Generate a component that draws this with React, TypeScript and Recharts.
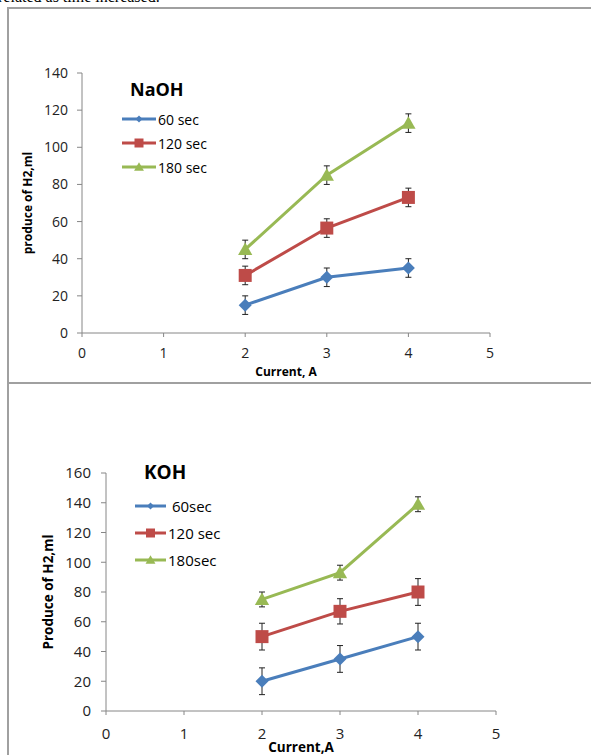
import React from "react";
import { LineChart, Line, XAxis, YAxis, ErrorBar, Legend } from "recharts";

const currents = [2, 3, 4];
const xTicks = [0, 1, 2, 3, 4, 5];

// NaOH panel
const naoh60 = [15, 30, 35];
const naoh120 = [31, 56.5, 73];
const naoh180 = [45, 85, 113];
const naohErr60 = [5, 5, 5];
const naohErr120 = [5, 5, 5];
const naohErr180 = [5, 5, 5];
const naohNames = ["60 sec", "120 sec", "180 sec"];
const naohYTicks = [0, 20, 40, 60, 80, 100, 120, 140];

// KOH panel
const koh60 = [20, 35, 50];
const koh120 = [50, 67, 80];
const koh180 = [75, 93, 139];
const kohErr60 = [9, 9, 9];
const kohErr120 = [9, 8.5, 9];
const kohErr180 = [5, 5, 5];
const kohNames = [" 60sec", "120 sec", "180sec"];
const kohYTicks = [0, 20, 40, 60, 80, 100, 120, 140, 160];

const COLORS = ["#4A7EBB", "#BE4B48", "#98B954"];
const SHAPES = ["diamond", "square", "triangle"];
const KEYS = ["s60", "s120", "s180"];
const ERR_KEYS = ["e60", "e120", "e180"];
const FONT = "'Open Sans', Lato, sans-serif";

function buildRows(series: number[][], errs: number[][]) {
  return currents.map((x, i) => {
    const row: any = { x };
    KEYS.forEach((k, j) => (row[k] = series[j][i]));
    ERR_KEYS.forEach((k, j) => (row[k] = errs[j][i]));
    return row;
  });
}

function markerPath(shape: string, cx: number, cy: number, r: number) {
  if (shape === "diamond") return `M${cx},${cy - r}L${cx + r},${cy}L${cx},${cy + r}L${cx - r},${cy}Z`;
  if (shape === "square") return `M${cx - r},${cy - r}h${2 * r}v${2 * r}h${-2 * r}Z`;
  return `M${cx},${cy - r * 1.05}L${cx + r * 1.1},${cy + r * 0.85}L${cx - r * 1.1},${cy + r * 0.85}Z`;
}

const dotFor = (shape: string, color: string, r: number) => (p: any) => (
  <path key={`${shape}-${p.index}`} d={markerPath(shape, p.cx, p.cy, r)} fill={color} />
);

function makeLegend(title: string, titleSize: number, titleIndent: number, rowH: number, gap: number, textSize: number, lineW: number) {
  return (props: any) => {
    const items = [...(props.payload || [])].sort((a: any, b: any) => KEYS.indexOf(a.dataKey) - KEYS.indexOf(b.dataKey));
    return (
      <div style={{ fontFamily: FONT, color: "#000" }}>
        <div style={{ fontWeight: 700, fontSize: titleSize, height: 30, lineHeight: "30px", marginLeft: titleIndent, marginBottom: gap }}>{title}</div>
        {items.map((p: any) => {
          const i = KEYS.indexOf(p.dataKey);
          return (
            <div key={p.dataKey} style={{ display: "flex", alignItems: "center", height: rowH }}>
              <svg width={lineW} height={14} style={{ display: "block" }}>
                <line x1={0} y1={7} x2={lineW} y2={7} stroke={COLORS[i]} strokeWidth={3} />
                <path d={markerPath(SHAPES[i], lineW / 2, 7, i === 0 ? 3.5 : 4.5)} fill={COLORS[i]} />
              </svg>
              <span style={{ fontSize: textSize, whiteSpace: "pre", marginLeft: 2 }}>{p.value}</span>
            </div>
          );
        })}
      </div>
    );
  };
}

function Panel(props: any) {
  const { rows, names, yTicks, yMax, width, height, margin, yAxisW, xAxisH, tickSize, xTickMargin, yTickMargin, xLabel, yLabel, labelSize, yLabelOffset, legend, legendPos } = props;
  const tick = { fontSize: tickSize, fill: "#222", fontFamily: FONT };
  return (
    <LineChart width={width} height={height} data={rows} margin={margin}>
      <XAxis
        dataKey="x"
        type="number"
        domain={[0, 5]}
        ticks={xTicks}
        stroke="#868686"
        tickSize={4}
        tickMargin={xTickMargin}
        tick={tick}
        height={xAxisH}
        label={{ value: xLabel, position: "insideBottom", offset: 0, style: { fontFamily: FONT, fontWeight: 700, fontSize: labelSize, fill: "#000" } }}
      />
      <YAxis
        domain={[0, yMax]}
        ticks={yTicks}
        stroke="#868686"
        tickSize={5}
        tickMargin={yTickMargin}
        tick={tick}
        width={yAxisW}
        label={{ value: yLabel, angle: -90, position: "insideLeft", offset: yLabelOffset, style: { textAnchor: "middle", fontFamily: FONT, fontWeight: 700, fontSize: labelSize, fill: "#000" } }}
      />
      <Legend
        layout="vertical"
        align="center"
        verticalAlign="middle"
        content={legend}
        wrapperStyle={{ position: "absolute", left: legendPos[0], top: legendPos[1], width: 160, height: "auto" }}
      />
      {KEYS.map((k, i) => (
        <Line
          key={k}
          type="linear"
          dataKey={k}
          name={names[i]}
          stroke={COLORS[i]}
          strokeWidth={3}
          dot={dotFor(SHAPES[i], COLORS[i], 6.5)}
          activeDot={false}
          isAnimationActive={false}
        >
          <ErrorBar dataKey={ERR_KEYS[i]} direction="y" width={3} strokeWidth={1} stroke="#222" />
        </Line>
      ))}
    </LineChart>
  );
}

export default function App() {
  const naohRows = buildRows([naoh60, naoh120, naoh180], [naohErr60, naohErr120, naohErr180]);
  const kohRows = buildRows([koh60, koh120, koh180], [kohErr60, kohErr120, kohErr180]);
  return (
    <div style={{ position: "absolute", left: 0, top: 0, width: 591, height: 755, overflow: "hidden", background: "#fff" }}>
      <div style={{ position: "absolute", left: -2, top: -12, fontFamily: "'Liberation Serif', serif", fontSize: 16, whiteSpace: "nowrap" }}>
        related as time increased.
      </div>
      <div style={{ position: "absolute", left: 7, top: 7, width: 584, height: 2, background: "#a0a0a0" }} />
      <div style={{ position: "absolute", left: 7, top: 7, width: 2, height: 748, background: "#a0a0a0" }} />
      <div style={{ position: "absolute", left: 7, top: 382, width: 584, height: 2, background: "#a0a0a0" }} />

      <div style={{ position: "absolute", left: 0, top: 0 }}>
        <Panel
          rows={naohRows}
          names={naohNames}
          yTicks={naohYTicks}
          yMax={140}
          width={591}
          height={383}
          margin={{ top: 73, right: 101, bottom: 7, left: 0 }}
          yAxisW={82}
          xAxisH={43}
          tickSize={14}
          xTickMargin={11}
          yTickMargin={9}
          xLabel="Current, A"
          yLabel="produce of H2,ml"
          labelSize={12}
          yLabelOffset={28}
          legend={makeLegend("NaOH", 18, 8, 24, 3, 14, 34)}
          legendPos={[122, 74]}
        />
      </div>

      <div style={{ position: "absolute", left: 0, top: 383 }}>
        <Panel
          rows={kohRows}
          names={kohNames}
          yTicks={kohYTicks}
          yMax={160}
          width={591}
          height={372}
          margin={{ top: 90, right: 95, bottom: 3, left: 0 }}
          yAxisW={106}
          xAxisH={41}
          tickSize={15}
          xTickMargin={13}
          yTickMargin={10}
          xLabel="Current,A"
          yLabel="Produce of H2,ml"
          labelSize={13.5}
          yLabelOffset={48}
          legend={makeLegend("KOH", 19, 9, 27, 5, 15, 31)}
          legendPos={[135, 74]}
        />
      </div>
    </div>
  );
}
